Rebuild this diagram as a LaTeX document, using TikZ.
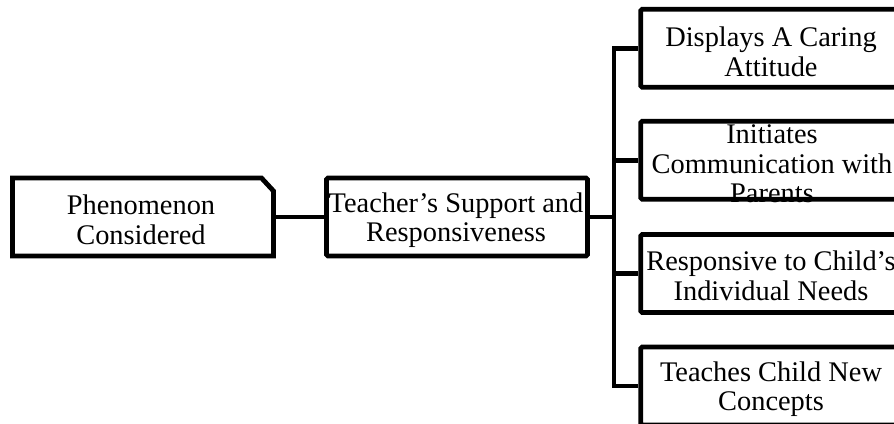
\documentclass[tikz,border=0pt]{standalone}
\usepackage{fontspec}
\setmainfont{Liberation Serif}
\tikzset{
  frame/.style={line width=4.8pt, fill=white, minimum width=261pt, minimum height=78pt, inner sep=0pt},
  boxnode/.style={frame, draw=black, rectangle, rounded corners=1.5pt},
  chamfnode/.style={frame, draw=none, rectangle, outer sep=0pt},
  chamfline/.style={draw=black, line width=4.8pt, line join=miter},
  txt/.style={align=center, inner sep=0pt, font=\fontsize{28.4}{29.5}\selectfont},
  conn/.style={draw=black, line width=4.8pt}
}
\begin{document}
\begin{tikzpicture}[x=1pt,y=-1pt]
\useasboundingbox (0,0) rectangle (894,423);
\clip (0,0) rectangle (894,423);
\fill[white] (0,0) rectangle (894,423);
\node[chamfnode] (ph) at (143,217) {};
\draw[chamfline] (ph.south west) -- (ph.north west) -- ([xshift=-12pt]ph.north east) -- ([yshift=-13pt]ph.north east) -- (ph.south east) -- cycle;
\node[txt] (pht) at (141,220) {Phenomenon\\Considered};
\node[boxnode] (ts) at (457,217) {};
\node[txt] (tst) at (456,220) {Teacher’s Support and\\Responsiveness};
\node[boxnode] (b1) at (771.25,48.25) {};
\node[txt] (b1t) at (771,52) {Displays A Caring\\Attitude};
\node[boxnode] (b2) at (771.25,160.25) {};
\node[txt] (b2t) at (772,164) {Initiates\\Communication with\\Parents};
\node[boxnode] (b3) at (771.25,273.5) {};
\node[txt] (b3t) at (771,276) {Responsive to Child’s\\Individual Needs};
\node[boxnode] (b4) at (771.25,386) {};
\node[txt] (b4t) at (771,389) {Teaches Child New\\Concepts};
\coordinate (sp) at (614,217);
\draw[conn] (ph.east) -- (ts.west);
\draw[conn] (ts.east) -- (sp);
\draw[conn] (b1.west) -| (sp);
\draw[conn] (b2.west) -| (sp);
\draw[conn] (b3.west) -| (sp);
\draw[conn] (b4.west) -| (sp);
\end{tikzpicture}
\end{document}
